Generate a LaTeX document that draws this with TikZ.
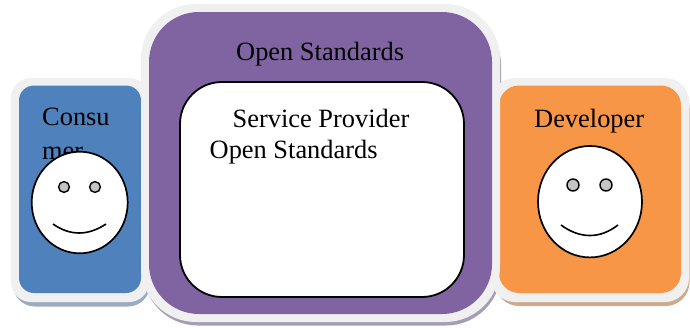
\documentclass[tikz,border=0pt]{standalone}
\usepackage{fontspec}
\setmainfont{Liberation Serif}
\definecolor{rim}{HTML}{F0F0F1}
\definecolor{bluefill}{HTML}{4F81BD}
\definecolor{purplefill}{HTML}{8064A2}
\definecolor{orangefill}{HTML}{F79646}
\definecolor{blueshadow}{HTML}{9DABC0}
\definecolor{purpleshadow}{HTML}{A49DB4}
\definecolor{orangeshadow}{HTML}{CFA98C}
\definecolor{eyegray}{HTML}{C4C4C4}
\tikzset{
  x=1pt,y=-1pt,
  facestyle/.style={draw=black,fill=white,line width=1.7pt},
  eyestyle/.style={draw=black,fill=eyegray,line width=1.4pt},
  smilestyle/.style={draw=black,line width=1.6pt},
  label/.style={inner sep=0pt,font=\fontsize{26.4}{31}\selectfont,text=black,anchor=base west},
}
\begin{document}
\begin{tikzpicture}
\useasboundingbox (0,0) rectangle (690,327);
\fill[white] (0,0) rectangle (690,327);
% shadows
\fill[blueshadow,rounded corners=22pt] (13,84) rectangle (150,306.5);
\fill[orangeshadow,rounded corners=24pt] (495,84) rectangle (689.5,306);
\fill[purpleshadow,rounded corners=55pt] (143,10) rectangle (501,325.5);
% consumer
\fill[rim,rounded corners=20pt] (11,78) rectangle (149,302);
\fill[bluefill,rounded corners=15pt] (19,85.5) rectangle (141,293);
% developer
\fill[rim,rounded corners=24pt] (491,78) rectangle (689,302);
\fill[orangefill,rounded corners=20pt] (499,85.5) rectangle (681,293);
% provider
\fill[rim,rounded corners=55pt] (141,4) rectangle (500,322);
\fill[purplefill,rounded corners=50pt] (149,12) rectangle (492,314);
\draw[draw=black,fill=white,line width=1.8pt,rounded corners=42pt] (180,82) rectangle (464,297);
% texts
\node[label] (consa) at (42,125) {Consu};
\node[label] (consb) at (42,159) {mer};
\node[label] (dev) at (534,127) {Developer};
\node[label] (os) at (236,60) {Open Standards};
\node[label] (sp) at (232.5,127) {Service Provider};
\node[label] (osb) at (209.5,158) {Open Standards};
% consumer face
\draw[facestyle] (79.7,202.5) ellipse [x radius=48,y radius=50.8];
\draw[eyestyle] (64,187) circle (5.4);
\draw[eyestyle] (95,187) circle (5.4);
\draw[smilestyle] (53,224) .. controls (70,236) and (88,236) .. (106,224);
% developer face
\draw[facestyle] (590,201.7) ellipse [x radius=52,y radius=55.7];
\draw[eyestyle] (573,185) circle (6);
\draw[eyestyle] (606,185) circle (6);
\draw[smilestyle] (561,225) .. controls (580,239) and (600,239) .. (618,225);
\end{tikzpicture}
\end{document}
